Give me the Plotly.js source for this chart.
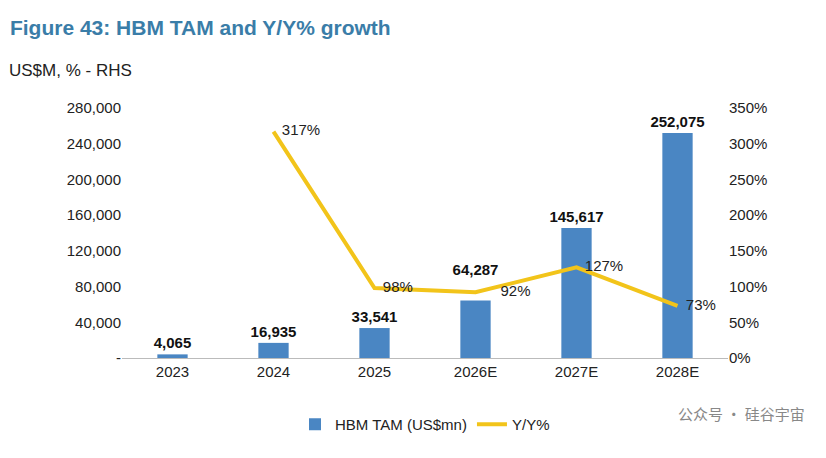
<!DOCTYPE html>
<html><head><meta charset="utf-8">
<script src="https://cdn.plot.ly/plotly-3.0.1.min.js"></script>
<style>body{margin:0;background:#fff}</style></head>
<body><div id="c" style="width:826px;height:458px"></div>
<script>
const categories = ["2023","2024","2025","2026E","2027E","2028E"];
const tam = [4065,16935,33541,64287,145617,252075];
const yoyX = ["2024","2025","2026E","2027E","2028E"];
const yoy = [317,98,92,127,73];
const fmt = v => v.toLocaleString("en-US");
Plotly.newPlot("c",[
 {type:"bar",x:categories,y:tam,name:"HBM TAM (US$mn)",marker:{color:"#4A86C3"},width:0.3,
  text:tam.map((v,i)=>"<b>"+fmt(v)+"</b>"+(i===3?"<br> ":"")),textposition:"outside",cliponaxis:false,constraintext:"none",
  textfont:{family:"Liberation Sans, Arial",size:15,color:"#111"}},
 {type:"scatter",mode:"lines+text",x:yoyX,y:yoy,yaxis:"y2",name:"Y/Y%",line:{color:"#F2C41A",width:4},
  text:yoy.map((v,i)=>(i===2?"      ":"  ")+v+"%"),textposition:"middle right",cliponaxis:false,
  textfont:{family:"Liberation Sans, Arial",size:15,color:"#222"}}
],{
 width:826,height:458,margin:{l:122,r:98,t:108,b:100},
 paper_bgcolor:"#fff",plot_bgcolor:"#fff",
 font:{family:"Liberation Sans, Arial",size:15,color:"#222"},
 title:{text:"<b>Figure 43: HBM TAM and Y/Y% growth</b>",x:0.012,xanchor:"left",y:0.94,yanchor:"middle",
  font:{size:21,color:"#3A7DA8",family:"Liberation Sans, Arial"}},
 xaxis:{type:"category",showline:true,linecolor:"#bbb",ticks:"",tickfont:{size:15}},
 yaxis:{range:[0,280000],tickvals:[0,40000,80000,120000,160000,200000,240000,280000],
  ticktext:["-","40,000","80,000","120,000","160,000","200,000","240,000","280,000"],showgrid:false,zeroline:false,ticks:""},
 yaxis2:{overlaying:"y",side:"right",range:[0,350],dtick:50,ticksuffix:"%",showgrid:false,zeroline:false},
 showlegend:true,legend:{orientation:"h",x:0.5,xanchor:"center",y:-0.2,font:{size:15}},
 annotations:[
  {text:"US$M, % - RHS",xref:"paper",yref:"paper",x:-0.19,y:1.15,xanchor:"left",yanchor:"middle",showarrow:false,font:{size:17,color:"#222"}},
  {text:"公众号 · 硅谷宇宙",xref:"paper",yref:"paper",x:1.13,y:-0.27,xanchor:"right",showarrow:false,
   font:{size:15,color:"#888",family:"Noto Sans CJK SC"}}
 ]
},{displayModeBar:false});
</script></body></html>
